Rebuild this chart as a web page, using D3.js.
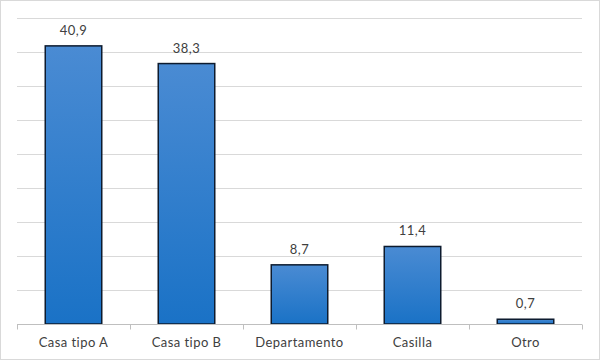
<!DOCTYPE html>
<html><head><meta charset="utf-8">
<script src="https://cdn.jsdelivr.net/npm/d3@7"></script>
<style>body{margin:0;background:#fff}svg{display:block}</style>
</head><body>
<script>
const categories = ["Casa tipo A","Casa tipo B","Departamento","Casilla","Otro"];
const values = [40.9, 38.3, 8.7, 11.4, 0.7];
const labels = ["40,9","38,3","8,7","11,4","0,7"];
const yTicks = [0,5,10,15,20,25,30,35,40,45];

const W=600,H=360;
const svg=d3.select("body").append("svg").attr("width",W).attr("height",H);
svg.append("rect").attr("x",0.5).attr("y",0.5).attr("width",W-1).attr("height",H-1)
  .attr("fill","#fff").attr("stroke","#d9d9d9");

const defs=svg.append("defs");
const g=defs.append("linearGradient").attr("id","bg").attr("x1",0).attr("y1",0).attr("x2",0).attr("y2",1);
g.append("stop").attr("offset","0%").attr("stop-color","#4a8bd3");
g.append("stop").attr("offset","100%").attr("stop-color","#1a72c6");

const x=d3.scaleBand().domain(categories).range([17,582]).paddingInner(0.5).paddingOuter(0.25);
const y=d3.scaleLinear().domain([0,45]).range([324,18]);
const font="'Century Gothic','URW Gothic','Lato','DejaVu Sans',sans-serif";

svg.append("g").selectAll("line").data(yTicks.slice(1)).join("line")
  .attr("x1",17).attr("x2",582).attr("y1",d=>Math.round(y(d))+0.5).attr("y2",d=>Math.round(y(d))+0.5)
  .attr("stroke","#d9d9d9").attr("stroke-width",1);

svg.append("g").selectAll("rect").data(values).join("rect")
  .attr("x",(d,i)=>x(categories[i])).attr("width",x.bandwidth())
  .attr("y",d=>y(d)).attr("height",d=>y(0)-y(d))
  .attr("fill","url(#bg)").attr("stroke","#0d1b2e").attr("stroke-width",1.5);

const ax=svg.append("g").attr("transform","translate(0,324.5)");
ax.append("line").attr("x1",17).attr("x2",582).attr("stroke","#bfbfbf");
const bounds=d3.range(categories.length+1).map(i=>17+i*(565/categories.length));
ax.selectAll("line.t").data(bounds).join("line").attr("class","t")
  .attr("x1",d=>Math.round(d)+0.5).attr("x2",d=>Math.round(d)+0.5).attr("y1",0).attr("y2",5).attr("stroke","#bfbfbf");

svg.append("g").selectAll("text").data(categories).join("text")
  .attr("x",d=>x(d)+x.bandwidth()/2).attr("y",347)
  .attr("text-anchor","middle").attr("font-family",font).attr("font-size",13).attr("letter-spacing",0.45).attr("fill","#404040")
  .text(d=>d);

svg.append("g").selectAll("text").data(values).join("text")
  .attr("x",(d,i)=>x(categories[i])+x.bandwidth()/2).attr("y",d=>y(d)-11)
  .attr("text-anchor","middle").attr("font-family",font).attr("font-size",13).attr("letter-spacing",0.45).attr("fill","#404040")
  .text((d,i)=>labels[i]);
</script>
</body></html>
